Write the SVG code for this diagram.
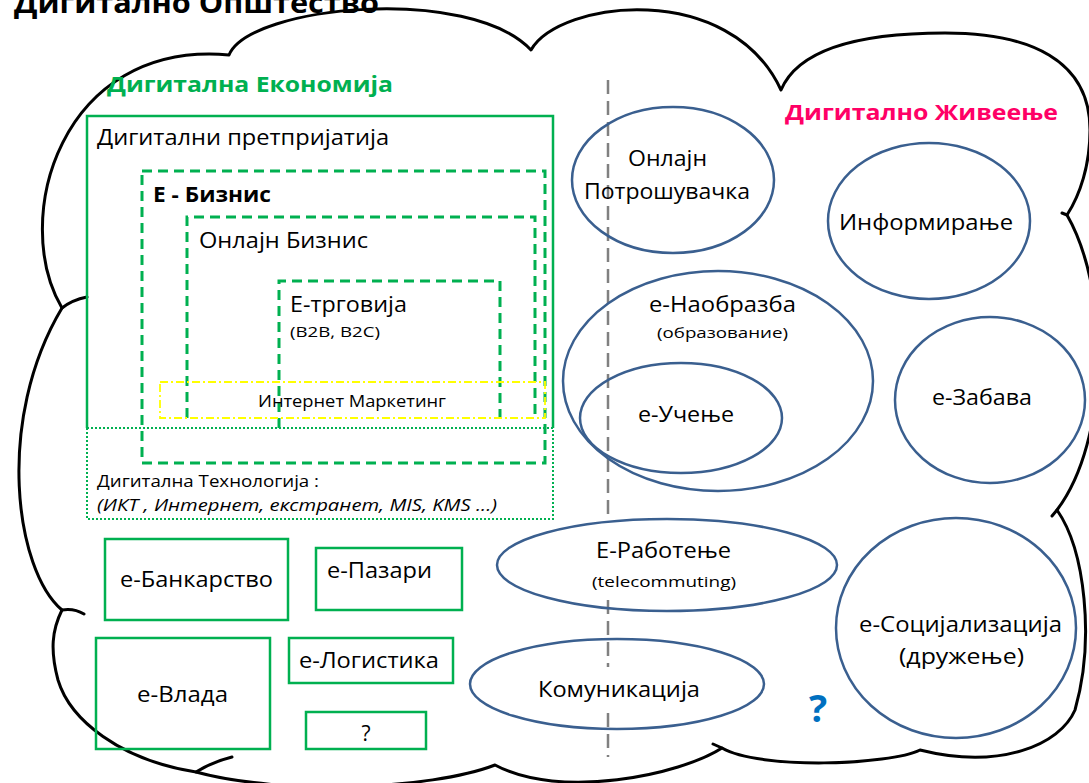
<svg xmlns="http://www.w3.org/2000/svg" width="1089" height="783" viewBox="0 0 1089 783">
<style>
text{font-family:"Open Sans","Liberation Sans",sans-serif;fill:#000}
.b{font-weight:bold}
.s21{font-size:21px}
.s15{font-size:15px}
.s16{font-size:16px}
.cloud{fill:#fff;stroke:#000;stroke-width:3;stroke-linejoin:round}
.hook{fill:none;stroke:#000;stroke-width:3;stroke-linecap:round}
.gs{fill:none;stroke:#00B050;stroke-width:2.5}
.gd{fill:none;stroke:#00B050;stroke-width:3;stroke-dasharray:10 6}
.gdot{fill:none;stroke:#00B050;stroke-width:2;stroke-dasharray:2 2}
.yel{fill:none;stroke:#FFFF00;stroke-width:1.8;stroke-dasharray:8 3 2 3}
.el{fill:none;stroke:#3A5F8F;stroke-width:2.5}
.sep{fill:none;stroke:#808080;stroke-width:2.5;stroke-dasharray:14 7}
</style>
<rect width="1089" height="783" fill="#fff"/>
<g id="cloud">
<path class="cloud" d="M62,308 C10,220 60,40 229,55 C250,5 470,-15 531,50 C560,0 730,-20 781,90 C800,45 870,33 945,33 C1030,33 1090,60 1090,130 C1090,165 1080,195 1067,215 C1110,290 1110,440 1057,510 C1085,550 1095,640 1075,710 C1060,745 1000,770 920,750 C890,765 760,770 722,748 C680,775 560,800 495,765 C430,790 280,795 196,772 C120,760 70,720 58,680 C50,650 52,630 62,610 C15,570 -5,420 62,308 Z"/>
<path class="hook" d="M62,308 Q72,300 87,297 M62,610 Q74,608 84,614 M196,772 Q212,762 232,757 M1067,215 L1062,213 M1057,510 L1052,516 M722,748 L713,744"/>
</g>
<g id="title"><text class="b" x="14" y="13" font-size="28" textLength="365" lengthAdjust="spacingAndGlyphs">Дигитално Општество</text></g>
<g id="hdr-economy"><text class="b" x="107" y="92" font-size="22" fill="#00B050" style="fill:#00B050" textLength="286" lengthAdjust="spacingAndGlyphs">Дигитална Економија</text></g>
<g id="hdr-living"><text class="b" x="785" y="120" font-size="22" style="fill:#FF0066" textLength="273" lengthAdjust="spacingAndGlyphs">Дигитално Живеење</text></g>
<g id="separator"><path class="sep" d="M608,80 V522 M608,600 V667 M608,713 V757"/></g>
<g id="digital-enterprises">
<path class="gs" d="M87,428 V116 H553 V428"/>
<text class="s21" x="97" y="145" textLength="292" lengthAdjust="spacingAndGlyphs">Дигитални претпријатија</text>
</g>
<g id="digital-technology">
<rect class="gdot" x="87" y="428" width="466" height="91"/>
<text class="s16" x="97" y="487" textLength="222" lengthAdjust="spacingAndGlyphs">Дигитална  Технологија :</text>
<text class="s16" x="97" y="511" font-style="italic" textLength="400" lengthAdjust="spacingAndGlyphs">(ИКТ , Интернет, екстранет, MIS, KMS  ...)</text>
</g>
<g id="e-business">
<rect class="gd" x="142" y="171" width="403" height="292"/>
<text class="s21 b" x="153" y="202" textLength="118" lengthAdjust="spacingAndGlyphs">E - Бизнис</text>
</g>
<g id="online-business">
<path class="gd" d="M187,418 V217 H535 V418"/>
<text class="s21" x="199" y="248" textLength="169" lengthAdjust="spacingAndGlyphs">Онлајн Бизнис</text>
</g>
<g id="e-commerce">
<path class="gd" d="M279,428 V281 H500 V418"/>
<text class="s21" x="290" y="312" textLength="117" lengthAdjust="spacingAndGlyphs">E-трговија</text>
<text class="s15" x="290" y="337" textLength="90" lengthAdjust="spacingAndGlyphs">(B2B, B2C)</text>
</g>
<g id="internet-marketing">
<rect class="yel" x="160" y="382" width="385" height="36"/>
<text class="s16" x="258" y="407" textLength="188" lengthAdjust="spacingAndGlyphs">Интернет Маркетинг</text>
</g>
<g id="e-banking">
<rect class="gs" x="105" y="539" width="183" height="81"/>
<text class="s21" x="120" y="587" textLength="153" lengthAdjust="spacingAndGlyphs">e-Банкарство</text>
</g>
<g id="e-markets">
<rect class="gs" x="316" y="548" width="146" height="62"/>
<text class="s21" x="327" y="578" textLength="105" lengthAdjust="spacingAndGlyphs">e-Пазари</text>
</g>
<g id="e-government">
<rect class="gs" x="96" y="638" width="174" height="111"/>
<text class="s21" x="137" y="702" textLength="91" lengthAdjust="spacingAndGlyphs">e-Влада</text>
</g>
<g id="e-logistics">
<rect class="gs" x="289" y="638" width="164" height="45"/>
<text class="s21" x="299" y="668" textLength="140" lengthAdjust="spacingAndGlyphs">e-Логистика</text>
</g>
<g id="unknown-box">
<rect class="gs" x="306" y="712" width="120" height="37"/>
<text class="s21" x="366" y="741" text-anchor="middle">?</text>
</g>
<g id="online-consumer">
<ellipse class="el" cx="673" cy="180" rx="101" ry="73"/>
<text class="s21" x="628" y="166" textLength="79" lengthAdjust="spacingAndGlyphs">Онлајн</text>
<text class="s21" x="584" y="199" textLength="166" lengthAdjust="spacingAndGlyphs">Потрошувачка</text>
</g>
<g id="informing">
<ellipse class="el" cx="929" cy="221" rx="101" ry="78"/>
<text class="s21" x="839" y="230" textLength="174" lengthAdjust="spacingAndGlyphs">Информирање</text>
</g>
<g id="e-education">
<ellipse class="el" cx="718" cy="381" rx="155" ry="110"/>
<text class="s21" x="649" y="312" textLength="147" lengthAdjust="spacingAndGlyphs">e-Наобразба</text>
<text class="s15" x="657" y="338" textLength="131" lengthAdjust="spacingAndGlyphs">(образование)</text>
</g>
<g id="e-learning">
<ellipse class="el" cx="681" cy="418" rx="101" ry="55"/>
<text class="s21" x="638" y="422" textLength="96" lengthAdjust="spacingAndGlyphs">e-Учење</text>
</g>
<g id="e-entertainment">
<ellipse class="el" cx="990" cy="400" rx="95" ry="83"/>
<text class="s21" x="932" y="405" textLength="100" lengthAdjust="spacingAndGlyphs">e-Забава</text>
</g>
<g id="e-work">
<ellipse class="el" cx="667" cy="565" rx="170" ry="46"/>
<text class="s21" x="596" y="558" textLength="135" lengthAdjust="spacingAndGlyphs">E-Работење</text>
<text class="s15" x="592" y="587" textLength="144" lengthAdjust="spacingAndGlyphs">(telecommuting)</text>
</g>
<g id="communication">
<ellipse class="el" cx="617" cy="684" rx="147" ry="45"/>
<text class="s21" x="538" y="697" textLength="162" lengthAdjust="spacingAndGlyphs">Комуникација</text>
</g>
<g id="e-socialization">
<ellipse class="el" cx="956" cy="628" rx="120" ry="110"/>
<text class="s21" x="859" y="632" textLength="203" lengthAdjust="spacingAndGlyphs">e-Социјализација</text>
<text class="s21" x="899" y="664" textLength="125" lengthAdjust="spacingAndGlyphs">(дружење)</text>
</g>
<g id="question"><text class="b" x="818" y="722" font-size="38" text-anchor="middle" style="fill:#0070C0">?</text></g>
</svg>
